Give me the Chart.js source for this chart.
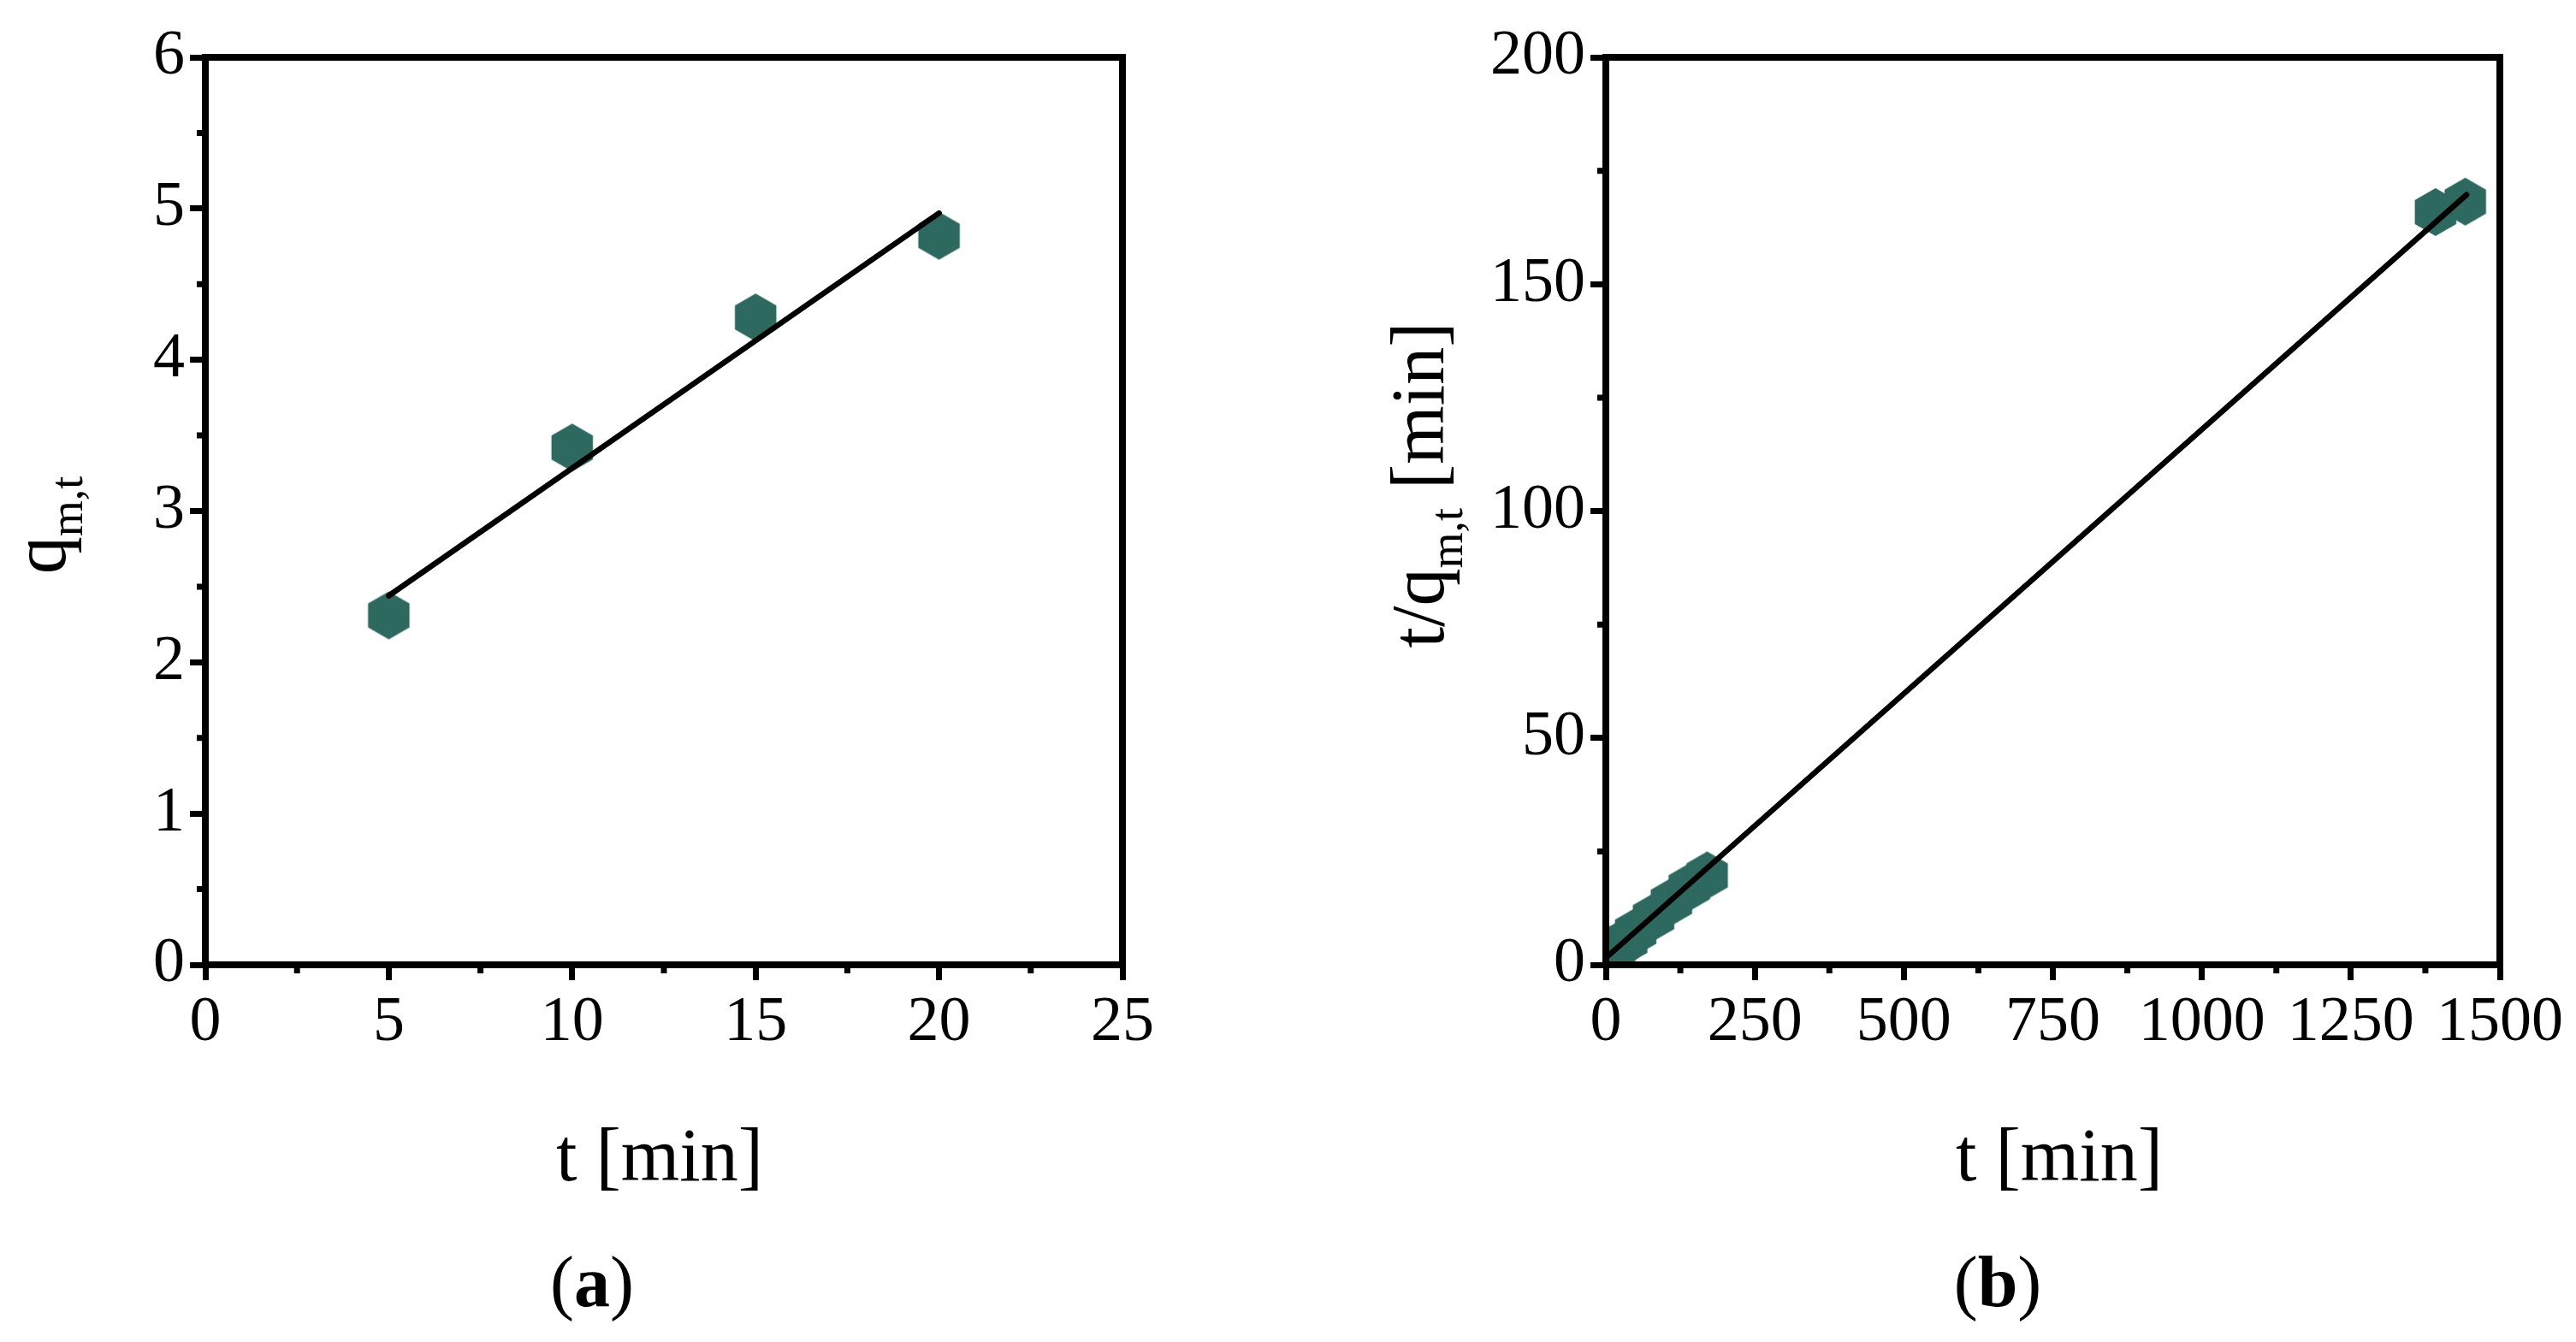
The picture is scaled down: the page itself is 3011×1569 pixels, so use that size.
<!DOCTYPE html>
<html>
<head>
<meta charset="utf-8">
<script src="https://cdn.jsdelivr.net/npm/chart.js@4.4.1/dist/chart.umd.min.js"></script>
<style>
  html, body { margin: 0; padding: 0; background: #fff; }
  canvas { position: absolute; top: 0; }
  #chartA { left: 0; }
  #chartB { left: 1505px; }
</style>
</head>
<body>
<canvas id="chartA" width="1505" height="1569"></canvas>
<canvas id="chartB" width="1506" height="1569"></canvas>
<script>
// --- panel (a): q vs t ---
const timeA = [5, 10, 15, 20];
const qA = [2.31, 3.42, 4.28, 4.82];
const fitTimeA = [5, 20];
const fitQA = [2.44, 4.97];
const xTicksA = [0, 5, 10, 15, 20, 25];
const yTicksA = [0, 1, 2, 3, 4, 5, 6];
const xMinorA = [2.5, 7.5, 12.5, 17.5, 22.5];
const yMinorA = [0.5, 1.5, 2.5, 3.5, 4.5, 5.5];

// --- panel (b): t/q vs t ---
const timeB = [5, 10, 15, 20, 35, 50, 80, 110, 140, 170, 1392, 1442];
const ratioB = [2.2, 2.9, 3.5, 4.2, 5.3, 7.3, 10.5, 13.9, 17.1, 19.7, 165.9, 168.2];
const fitTimeB = [5, 1444];
const fitRatioB = [2.1, 169.7];
const xTicksB = [0, 250, 500, 750, 1000, 1250, 1500];
const yTicksB = [0, 50, 100, 150, 200];
const xMinorB = [125, 375, 625, 875, 1125, 1375];
const yMinorB = [25, 75, 125, 175];

const FONT = '"Liberation Serif", "Times New Roman", serif';
const MARKER = '#2d695f';

function makeHex(r, color) {
  const c = document.createElement('canvas');
  const s = Math.ceil(2 * r + 2);
  c.width = s; c.height = s;
  const g = c.getContext('2d');
  g.fillStyle = color;
  g.beginPath();
  for (let k = 0; k < 6; k++) {
    const ang = -Math.PI / 2 + k * Math.PI / 3;
    const px = s / 2 + r * Math.cos(ang), py = s / 2 + r * Math.sin(ang);
    if (k) g.lineTo(px, py); else g.moveTo(px, py);
  }
  g.closePath();
  g.fill();
  return c;
}
const hex = makeHex(28, MARKER);

function partsWidth(ctx, parts) {
  let w = 0;
  parts.forEach(p => {
    ctx.font = (p.bold ? 'bold ' : '') + p.size + 'px ' + FONT;
    w += ctx.measureText(p.text).width;
  });
  return w;
}

// draws a run of text pieces (for subscripts), centred on `center`, optionally rotated
function drawParts(ctx, parts, baseX, baseY, center, rotated) {
  const w = partsWidth(ctx, parts);
  ctx.save();
  ctx.translate(baseX, baseY);
  if (rotated) ctx.rotate(-Math.PI / 2);
  ctx.fillStyle = '#000';
  ctx.textBaseline = 'alphabetic';
  ctx.textAlign = 'left';
  let cx = center - w / 2;
  parts.forEach(p => {
    ctx.font = (p.bold ? 'bold ' : '') + p.size + 'px ' + FONT;
    ctx.fillText(p.text, cx, p.dy || 0);
    cx += ctx.measureText(p.text).width;
  });
  ctx.restore();
}

const framePlugin = {
  id: 'frame',
  afterDraw(chart, args, opts) {
    const { ctx, chartArea: a, scales: { x, y } } = chart;
    ctx.save();
    ctx.strokeStyle = '#000';
    ctx.lineWidth = 7;
    ctx.beginPath();
    opts.xMinor.forEach(v => {
      const px = x.getPixelForValue(v);
      ctx.moveTo(px, a.bottom); ctx.lineTo(px, a.bottom + 10);
    });
    opts.yMinor.forEach(v => {
      const py = y.getPixelForValue(v);
      ctx.moveTo(a.left, py); ctx.lineTo(a.left - 10, py);
    });
    ctx.stroke();
    ctx.lineWidth = 8;
    ctx.strokeRect(a.left, a.top, a.right - a.left, a.bottom - a.top);
    ctx.restore();

    // axis titles and panel label
    drawParts(ctx, [{ text: 't [min]', size: 88 }], 0, 1380, opts.xTitleX, false);
    drawParts(ctx, [{ text: '(', size: 84 }, { text: opts.panel, size: 84, bold: true }, { text: ')', size: 84 }],
      0, 1527, opts.panelX, false);
    // rotated y title: translate to (baseline x, centre y), centre at 0
    drawParts(ctx, opts.yTitle, opts.yTitleX, opts.yTitleY, 0, true);
  }
};

function axisOpts(min, max, step, ticks, fit) {
  return {
    type: 'linear', min: min, max: max,
    afterFit: fit,
    afterBuildTicks: s => { s.ticks = ticks.map(v => ({ value: v })); },
    ticks: { stepSize: step, autoSkip: false, maxRotation: 0, padding: 6, color: '#000',
             font: { family: FONT, size: 74 },
             callback: v => String(v) },
    grid: { display: true, drawOnChartArea: false, drawTicks: true, tickLength: 18,
            lineWidth: 7, color: '#000' },
    border: { display: false }
  };
}

function makeChart(id, d) {
  new Chart(document.getElementById(id), {
    type: 'scatter',
    data: {
      datasets: [
        {
          type: 'line',
          data: d.fitX.map((v, i) => ({ x: v, y: d.fitY[i] })),
          borderColor: '#000', borderWidth: 6.5, pointRadius: 0,
          borderCapStyle: 'round', fill: false, order: 0
        },
        {
          data: d.x.map((v, i) => ({ x: v, y: d.y[i] })),
          pointStyle: hex, pointRadius: 28, clip: 0, order: 1
        }
      ]
    },
    options: {
      responsive: false,
      devicePixelRatio: 1,
      animation: false,
      layout: { padding: d.padding },
      plugins: {
        legend: { display: false },
        tooltip: { enabled: false },
        frame: d.frame
      },
      scales: {
        x: axisOpts(0, d.xMax, d.xStep, d.xTicks, s => { s.height = 100; }),
        y: axisOpts(0, d.yMax, d.yStep, d.yTicks, s => { s.width = d.yWidth; })
      }
    },
    plugins: [framePlugin]
  });
}

makeChart('chartA', {
  x: timeA, y: qA, fitX: fitTimeA, fitY: fitQA,
  xMax: 25, xStep: 5, yMax: 6, yStep: 1, xTicks: xTicksA, yTicks: yTicksA,
  yWidth: 240,
  padding: { left: 0, right: 193, top: 67, bottom: 341 },
  frame: {
    xMinor: xMinorA, yMinor: yMinorA, xTitleX: 771, panel: 'a', panelX: 692,
    yTitle: [{ text: 'q', size: 88 }, { text: 'm,t', size: 54, dy: 20 }],
    yTitleX: 76, yTitleY: 614
  }
});

makeChart('chartB', {
  x: timeB, y: ratioB, fitX: fitTimeB, fitY: fitRatioB,
  xMax: 1500, xStep: 250, yMax: 200, yStep: 50, xTicks: xTicksB, yTicks: yTicksB,
  yWidth: 372,
  padding: { left: 0, right: 89, top: 67, bottom: 341 },
  frame: {
    xMinor: xMinorB, yMinor: yMinorB, xTitleX: 902, panel: 'b', panelX: 830,
    yTitle: [{ text: 't/q', size: 88 }, { text: 'm,t', size: 54, dy: 22 }, { text: ' [min]', size: 88 }],
    yTitleX: 182, yTitleY: 567
  }
});
</script>
</body>
</html>
